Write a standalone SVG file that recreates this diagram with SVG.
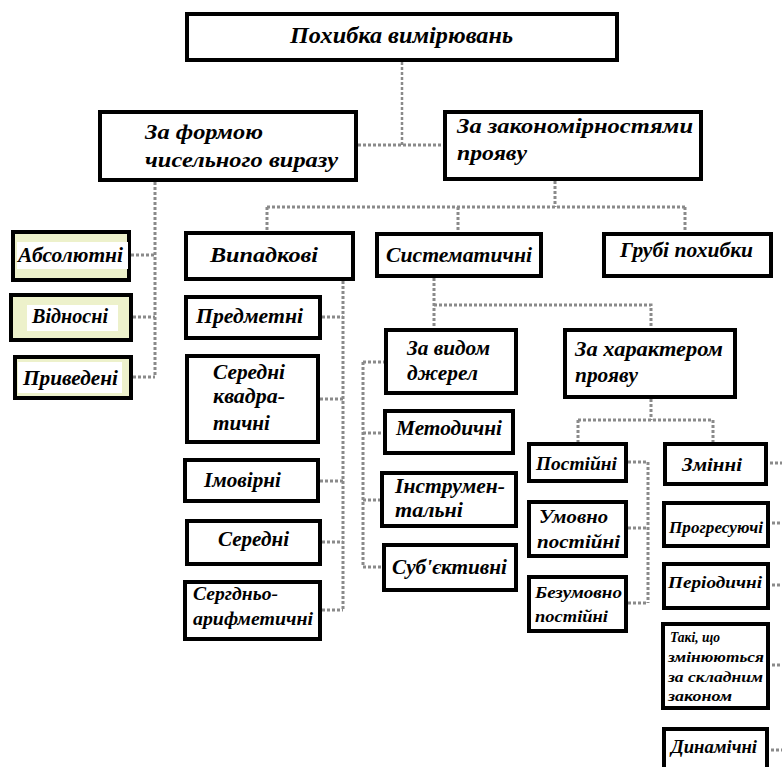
<svg xmlns="http://www.w3.org/2000/svg" width="782" height="767" viewBox="0 0 782 767">
<style>
.b{fill:#fff;stroke:#000;stroke-width:4}
.g{fill:#edf1cb;stroke:#000;stroke-width:4}
.w{fill:#fff;stroke:none}
.c{fill:none;stroke:#8a8a8a;stroke-width:3;stroke-dasharray:3 2}
.c2{fill:none;stroke:#8a8a8a;stroke-width:2.5;stroke-dasharray:3 2}
text{font-family:"Liberation Serif","DejaVu Serif",serif;font-weight:bold;font-style:italic;fill:#000}
.f22{font-size:23px}.f21{font-size:22px}.f20{font-size:21px}.f19{font-size:20px}.f18{font-size:19px}.f17{font-size:18px}.f16{font-size:17px}.f15{font-size:16px}.f14{font-size:15px}
</style>
<rect width="782" height="767" fill="#fff"/>
<g id="connectors">
<path class="c2" d="M402 62V145"/>
<path class="c" d="M358 145H443"/>
<path class="c" d="M155 182V377M131 255H155M133 317H155M133 377H155"/>
<path class="c" d="M555 181V207M267 207H685M267 207V231M458 207V232M685 207V232"/>
<path class="c" d="M343 281V610M322 317H343M320 399H343M320 481H343M322 542H343M322 610H343"/>
<path class="c" d="M434 278V328M434 305H651V328"/>
<path class="c" d="M363 362V567M363 362H384M363 433H383M363 500H380M363 567H382"/>
<path class="c" d="M651 399V420M578 420H713M578 420V442M713 420V442"/>
<path class="c" d="M648 462V603M628 462H648M628 528H648M628 603H648"/>
<path class="c" d="M770 463H782M772 523H782M772 585H782M772 665H782M771 750H782"/>
</g>
<g id="root"><rect class="b" x="187" y="14" width="430" height="46"/><text class="f22" x="290" y="43" textLength="223" lengthAdjust="spacingAndGlyphs">Похибка вимірювань</text></g>
<g id="forma"><rect class="b" x="100" y="112" width="256" height="68"/><text class="f21" x="145" y="139" textLength="118" lengthAdjust="spacingAndGlyphs">За формою</text><text class="f21" x="145" y="167" textLength="193" lengthAdjust="spacingAndGlyphs">чисельного виразу</text></g>
<g id="zakon"><rect class="b" x="445" y="112" width="256" height="67"/><text class="f21" x="457" y="133" textLength="236" lengthAdjust="spacingAndGlyphs">За закономірностями</text><text class="f21" x="457" y="160" textLength="70" lengthAdjust="spacingAndGlyphs">прояву</text></g>
<g id="abs"><rect class="g" x="13" y="232" width="116" height="48"/><rect class="w" x="17" y="242" width="111" height="27"/><text class="f19" x="18" y="262" textLength="105" lengthAdjust="spacingAndGlyphs">Абсолютні</text></g>
<g id="vidn"><rect class="g" x="11" y="295" width="120" height="45"/><rect class="w" x="27" y="305" width="91" height="26"/><text class="f19" x="32" y="323" textLength="76" lengthAdjust="spacingAndGlyphs">Відносні</text></g>
<g id="pryv"><rect class="g" x="15" y="357" width="116" height="41"/><rect class="w" x="18" y="362" width="104" height="31"/><text class="f19" x="23" y="385" textLength="95" lengthAdjust="spacingAndGlyphs">Приведені</text></g>
<g id="vyp"><rect class="b" x="186" y="233" width="167" height="46"/><text class="f21" x="210" y="262" textLength="108" lengthAdjust="spacingAndGlyphs">Випадкові</text></g>
<g id="syst"><rect class="b" x="377" y="234" width="164" height="42"/><text class="f20" x="386" y="262" textLength="146" lengthAdjust="spacingAndGlyphs">Систематичні</text></g>
<g id="grubi"><rect class="b" x="604" y="234" width="167" height="42"/><text class="f20" x="620" y="257" textLength="133" lengthAdjust="spacingAndGlyphs">Грубі похибки</text></g>
<g id="predm"><rect class="b" x="186" y="297" width="134" height="41"/><text class="f19" x="196" y="323" textLength="107" lengthAdjust="spacingAndGlyphs">Предметні</text></g>
<g id="serkv"><rect class="b" x="187" y="356" width="131" height="86"/><text class="f19" x="213" y="379" textLength="72" lengthAdjust="spacingAndGlyphs">Середні</text><text class="f19" x="213" y="403" textLength="72" lengthAdjust="spacingAndGlyphs">квадра-</text><text class="f19" x="213" y="430" textLength="57" lengthAdjust="spacingAndGlyphs">тичні</text></g>
<g id="imov"><rect class="b" x="185" y="460" width="133" height="41"/><text class="f19" x="204" y="487" textLength="77" lengthAdjust="spacingAndGlyphs">Імовірні</text></g>
<g id="sered"><rect class="b" x="187" y="521" width="133" height="43"/><text class="f19" x="218" y="546" textLength="71" lengthAdjust="spacingAndGlyphs">Середні</text></g>
<g id="serar"><rect class="b" x="185" y="582" width="135" height="57"/><text class="f18" x="193" y="600" textLength="85" lengthAdjust="spacingAndGlyphs">Сергдньо-</text><text class="f18" x="193" y="625" textLength="120" lengthAdjust="spacingAndGlyphs">арифметичні</text></g>
<g id="vyd"><rect class="b" x="386" y="330" width="130" height="63"/><text class="f19" x="407" y="355" textLength="83" lengthAdjust="spacingAndGlyphs">За видом</text><text class="f19" x="407" y="380" textLength="71" lengthAdjust="spacingAndGlyphs">джерел</text></g>
<g id="met"><rect class="b" x="385" y="411" width="128" height="42"/><text class="f19" x="396" y="435" textLength="106" lengthAdjust="spacingAndGlyphs">Методичні</text></g>
<g id="instr"><rect class="b" x="382" y="473" width="134" height="53"/><text class="f19" x="395" y="493" textLength="110" lengthAdjust="spacingAndGlyphs">Інструмен-</text><text class="f19" x="395" y="517" textLength="68" lengthAdjust="spacingAndGlyphs">тальні</text></g>
<g id="sub"><rect class="b" x="384" y="545" width="132" height="45"/><text class="f19" x="392" y="574" textLength="115" lengthAdjust="spacingAndGlyphs">Суб'єктивні</text></g>
<g id="khar"><rect class="b" x="565" y="330" width="170" height="67"/><text class="f20" x="575" y="356" textLength="148" lengthAdjust="spacingAndGlyphs">За характером</text><text class="f20" x="575" y="382" textLength="63" lengthAdjust="spacingAndGlyphs">прояву</text></g>
<g id="post"><rect class="b" x="529" y="444" width="97" height="37"/><text class="f18" x="536" y="470" textLength="81" lengthAdjust="spacingAndGlyphs">Постійні</text></g>
<g id="zmin"><rect class="b" x="665" y="444" width="101" height="40"/><text class="f18" x="682" y="471" textLength="60" lengthAdjust="spacingAndGlyphs">Змінні</text></g>
<g id="umov"><rect class="b" x="529" y="502" width="97" height="54"/><text class="f18" x="539" y="523" textLength="69" lengthAdjust="spacingAndGlyphs">Умовно</text><text class="f18" x="537" y="548" textLength="83" lengthAdjust="spacingAndGlyphs">постійні</text></g>
<g id="bezum"><rect class="b" x="529" y="577" width="97" height="54"/><text class="f15" x="535" y="598" textLength="87" lengthAdjust="spacingAndGlyphs">Безумовно</text><text class="f15" x="535" y="622" textLength="73" lengthAdjust="spacingAndGlyphs">постійні</text></g>
<g id="progr"><rect class="b" x="664" y="503" width="104" height="43"/><text class="f15" x="669" y="533" textLength="94" lengthAdjust="spacingAndGlyphs">Прогресуючі</text></g>
<g id="period"><rect class="b" x="664" y="564" width="104" height="44"/><text class="f16" x="668" y="588" textLength="94" lengthAdjust="spacingAndGlyphs">Періодичні</text></g>
<g id="taki"><rect class="b" x="663" y="624" width="105" height="84"/><text class="f14" x="670" y="642" textLength="50" lengthAdjust="spacingAndGlyphs">Такі, що</text><text class="f14" x="668" y="662" textLength="96" lengthAdjust="spacingAndGlyphs">змінюються</text><text class="f14" x="668" y="682" textLength="95" lengthAdjust="spacingAndGlyphs">за складним</text><text class="f14" x="668" y="701" textLength="64" lengthAdjust="spacingAndGlyphs">законом</text></g>
<g id="dyn"><rect class="b" x="664" y="729" width="103" height="44"/><text class="f17" x="671" y="753" textLength="86" lengthAdjust="spacingAndGlyphs">Динамічні</text></g>
</svg>
